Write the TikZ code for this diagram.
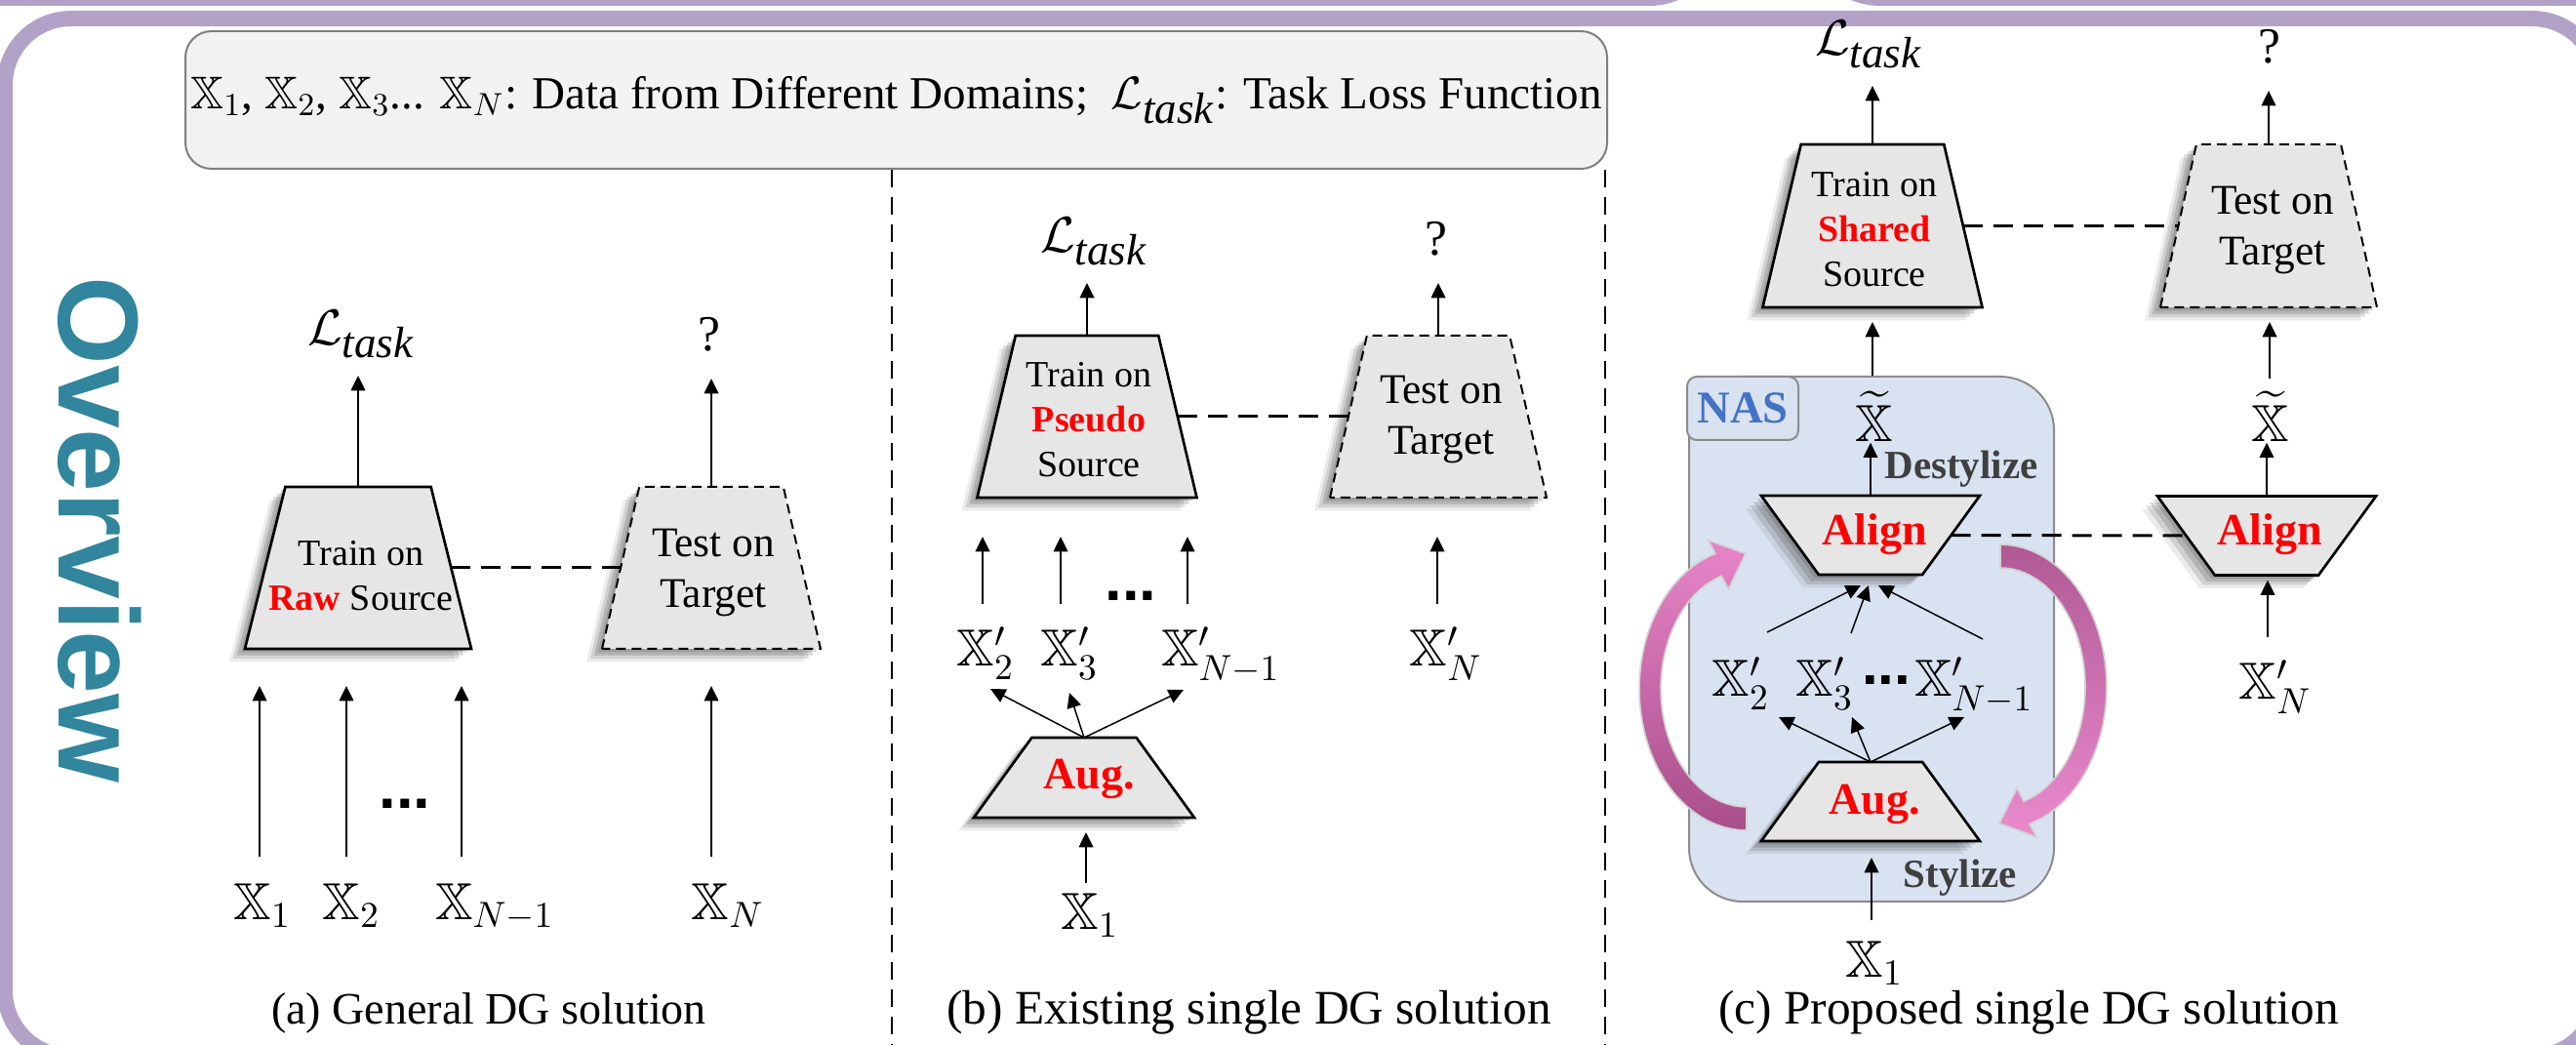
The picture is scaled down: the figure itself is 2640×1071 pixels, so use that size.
\documentclass[tikz,border=0pt]{standalone}
\usepackage{fix-cm}
\usepackage{amsmath,amssymb}
\usepackage{fontspec}
\setmainfont{Liberation Serif}
\newfontfamily\arialfont{Liberation Sans}
\usetikzlibrary{shapes.geometric,arrows.meta,shadows,calc}
\newcommand{\bbX}{\mathbb{X}}
\newcommand{\Ltask}{\mathcal{L}_{\text{\fontsize{13.5}{14}\selectfont\itshape task}}}
\definecolor{lav}{HTML}{B3A2C7}
\definecolor{ovteal}{HTML}{31859C}
\definecolor{trapfill}{HTML}{E6E6E6}
\definecolor{legfill}{HTML}{F2F2F2}
\definecolor{legdraw}{HTML}{7F7F7F}
\definecolor{nasfill}{HTML}{D9E2F1}
\definecolor{nasdraw}{HTML}{8C8C8C}
\definecolor{nasblue}{HTML}{4472C4}
\definecolor{dgray}{HTML}{3F3F3F}
\definecolor{pinkL}{HTML}{E785C8}
\definecolor{pinkD}{HTML}{A84E8A}
\definecolor{pinkRD}{HTML}{B05A95}
\definecolor{pinkRL}{HTML}{EA8ACD}
\tikzset{
  softshadow/.style={
    drop shadow={shadow xshift=-1.2pt,shadow yshift=-1.0pt,opacity=0.20,fill=black!75},
    drop shadow={shadow xshift=-2.4pt,shadow yshift=-2.0pt,opacity=0.20,fill=black!75},
    drop shadow={shadow xshift=-3.6pt,shadow yshift=-3.0pt,opacity=0.16,fill=black!75},
    drop shadow={shadow xshift=-4.8pt,shadow yshift=-4.0pt,opacity=0.10,fill=black!75}},
  trapbox/.style={trapezium, trapezium stretches=true, draw=black, line width=0.8pt,
    fill=trapfill, inner sep=1pt, outer sep=0pt, softshadow},
  dtrapbox/.style={trapbox, line width=0.6pt, dash pattern=on 3pt off 1.8pt},
  arr/.style={-{Triangle[length=4.6pt,width=4.4pt]}, line width=0.45pt},
  linkd/.style={line width=0.9pt, dash pattern=on 6pt off 3.3pt},
  sepd/.style={line width=0.6pt, dash pattern=on 5.4pt off 3pt},
  trtext/.style={font=\fontsize{11.4}{13.8}\selectfont, align=center, inner sep=0pt},
  tetext/.style={font=\fontsize{13}{15.5}\selectfont, align=center, inner sep=0pt},
  redb/.style={font=\fontsize{13.8}{16}\selectfont\bfseries, text=red, inner sep=0pt},
  xlab/.style={font=\fontsize{16}{18}\selectfont, inner sep=0pt, anchor=base},
  losslab/.style={font=\fontsize{15.5}{18}\selectfont, inner sep=0pt, anchor=south},
  qlab/.style={font=\fontsize{15.5}{18}\selectfont, inner sep=0pt, anchor=south},
  dotlab/.style={font=\arialfont\bfseries\fontsize{19}{20}\selectfont, inner sep=0pt},
  dotlabs/.style={font=\arialfont\bfseries\fontsize{18}{18}\selectfont, inner sep=0pt},
  caplab/.style={font=\fontsize{14.8}{17}\selectfont, inner sep=0pt},
  stylab/.style={font=\fontsize{12.3}{14}\selectfont\bfseries, text=dgray, inner sep=0pt}
}
\begin{document}
\begin{tikzpicture}[x=0.3pt,y=-0.3pt]
\useasboundingbox (0,0) rectangle (2640,1071);
\clip (0,0) rectangle (2640,1071);
% frames
\fill[lav, rounded corners=23.4pt] (-300,-300) rectangle (1768,6);
\fill[lav, rounded corners=23.4pt] (1849,-300) rectangle (2950,6);
\draw[lav, line width=4.8pt, rounded corners=20.4pt] (5,19) rectangle (2663,1083);
% Overview
\node[rotate=-90, anchor=base west, inner sep=0pt, text=ovteal, font=\arialfont\bfseries\fontsize{35}{40}\selectfont] (ov) at (60,283) {Overview};
% legend
\node[draw=legdraw, line width=0.6pt, fill=legfill, rounded corners=8pt, minimum width=437.1pt, minimum height=42.3pt, inner sep=0pt, font=\fontsize{14.1}{16}\selectfont] (legend) at (918.5,102.5) {$\bbX_1$, $\bbX_2$, $\bbX_3$... $\bbX_N$: Data from Different Domains;\ \ $\Ltask$: Task Loss Function};
\coordinate (sepA) at (914,1080);
\coordinate (sepB) at (1645,1080);
\draw[sepd] (legend.south -| sepA) -- (sepA);
\draw[sepd] (legend.south -| sepB) -- (sepB);

% ---------- (a)
\node[trapbox, minimum width=69.6pt, minimum height=49.8pt, trapezium angle=74.5] (trapA1) at (367,582) {};
\node[dtrapbox, minimum width=67.2pt, minimum height=49.8pt, trapezium angle=75.5] (trapA2) at (729,582) {};
\node[trtext] (txtA1) at (370,590) {Train on\\{\color{red}\bfseries Raw} Source};
\node[tetext] (txtA2) at (731,587) {Test on\\Target};
\draw[linkd] (trapA1.east) -- (trapA2.west);
\node[losslab] (lossA) at (370,368) {$\Ltask$};
\node[qlab] (qA) at (727,361) {?};
\draw[arr] (trapA1.north) -- ([yshift=-5.1pt]trapA1.north |- lossA.south);
\draw[arr] (trapA2.north) -- ([yshift=-8.1pt]trapA2.north |- qA.south);
\coordinate (tA1) at (266,878);
\coordinate (tA2) at (355,878);
\coordinate (tA3) at (473,878);
\coordinate (tA4) at (729,878);
\draw[arr] (tA1) -- ([yshift=-11.4pt]tA1 |- trapA1.south);
\draw[arr] (tA2) -- ([yshift=-11.4pt]tA2 |- trapA1.south);
\draw[arr] (tA3) -- ([yshift=-11.4pt]tA3 |- trapA1.south);
\draw[arr] (tA4) -- ([yshift=-11.4pt]tA4 |- trapA2.south);
\node[xlab] (xA1) at (269,942) {$\bbX_1$};
\node[xlab] (xA2) at (360,942) {$\bbX_2$};
\node[xlab] (xA3) at (507,942) {$\bbX_{N-1}$};
\node[xlab] (xA4) at (746,942) {$\bbX_N$};
\node[dotlab] (dotsA) at (415,824) {...};
\node[caplab, font=\fontsize{13.8}{17}\selectfont] (capA) at (501,1038) {(a) General DG solution};

% ---------- (b)
\node[trapbox, minimum width=67.5pt, minimum height=49.8pt, trapezium angle=75] (trapB1) at (1114,427) {};
\node[dtrapbox, minimum width=66.6pt, minimum height=49.8pt, trapezium angle=75.5] (trapB2) at (1474,427) {};
\node[trtext] (txtB1) at (1116,430) {Train on\\{\color{red}\bfseries Pseudo}\\Source};
\node[tetext] (txtB2) at (1477,430) {Test on\\Target};
\draw[linkd] (trapB1.east) -- (trapB2.west);
\node[losslab] (lossB) at (1121,273) {$\Ltask$};
\node[qlab] (qB) at (1472,263) {?};
\draw[arr] (trapB1.north) -- ([yshift=-5.1pt]trapB1.north |- lossB.south);
\draw[arr] (trapB2.north) -- ([yshift=-8.1pt]trapB2.north |- qB.south);
\coordinate (tB1) at (1007,619);
\coordinate (tB2) at (1087,619);
\coordinate (tB3) at (1217,619);
\coordinate (tB4) at (1473,619);
\draw[arr] (tB1) -- ([yshift=-12pt]tB1 |- trapB1.south);
\draw[arr] (tB2) -- ([yshift=-12pt]tB2 |- trapB1.south);
\draw[arr] (tB3) -- ([yshift=-12pt]tB3 |- trapB1.south);
\draw[arr] (tB4) -- ([yshift=-12pt]tB4 |- trapB2.south);
\node[xlab] (xB2) at (1010,683) {$\bbX'_2$};
\node[xlab] (xB3) at (1096,683) {$\bbX'_3$};
\node[xlab] (xB4) at (1251,683) {$\bbX'_{N-1}$};
\node[xlab] (xB5) at (1482,683) {$\bbX'_N$};
\node[dotlab] (dotsB) at (1159,611) {...};
\node[trapbox, minimum width=67.8pt, minimum height=24.6pt, trapezium angle=61] (augB) at (1111,797) {};
\node[redb] (txtB3) at (1116,798) {Aug.};
\coordinate (hB1) at (1015,706);
\coordinate (hB2) at (1096,710);
\coordinate (hB3) at (1213,707);
\draw[arr] (augB.north) -- (hB1);
\draw[arr] (augB.north) -- (hB2);
\draw[arr] (augB.north) -- (hB3);
\coordinate (tB5) at (1113,905);
\draw[arr] (tB5) -- ([yshift=-4.5pt]tB5 |- augB.south);
\node[xlab] (xB1) at (1117,953) {$\bbX_1$};
\node[caplab] (capB) at (1280,1038) {(b) Existing single DG solution};

% ---------- (c)
\node[draw=nasdraw, line width=0.6pt, fill=nasfill, rounded corners=16.5pt, minimum width=112.2pt, minimum height=161.4pt, inner sep=0pt] (nas) at (1918,655) {};
\node[draw=nasdraw, line width=0.6pt, fill=nasfill, rounded corners=3pt, minimum width=34.2pt, minimum height=19.5pt, inner sep=0pt, font=\fontsize{14}{16}\selectfont\bfseries, text=nasblue] (nastag) at (1786,418.5) {NAS};
% pink cycle arrows
\shade[top color=pinkL, bottom color=pinkD, draw=gray!35, line width=0.5pt]
  plot[domain=90:253, samples=40, variable=\t] ({1790+110*cos(\t)}, {706+145*sin(\t)})
  -- (1750.8,553.8) -- (1788.9,567.4) -- (1771.4,603.8)
  -- plot[domain=253:90, samples=40, variable=\t] ({1790+88*cos(\t)}, {706+121*sin(\t)})
  -- cycle;
\shade[top color=pinkRD, bottom color=pinkRL, draw=gray!35, line width=0.5pt]
  plot[domain=270:434, samples=40, variable=\t] ({2050+109*cos(\t)}, {704+146*sin(\t)})
  -- (2086.9,857.9) -- (2049.1,843.8) -- (2067.1,807.7)
  -- plot[domain=434:270, samples=40, variable=\t] ({2050+87*cos(\t)}, {704+122*sin(\t)})
  -- cycle;

\node[trapbox, minimum width=67.5pt, minimum height=50.1pt, trapezium angle=75] (trapC1) at (1919,231.5) {};
\node[dtrapbox, minimum width=66.6pt, minimum height=50.1pt, trapezium angle=76] (trapC2) at (2325,231.5) {};
\node[trtext] (txtC1) at (1921,235) {Train on\\{\color{red}\bfseries Shared}\\Source};
\node[tetext] (txtC2) at (2329,236) {Test on\\Target};
\draw[linkd] (trapC1.east) -- (trapC2.west);
\node[losslab] (lossC) at (1915,71) {$\Ltask$};
\node[qlab] (qC) at (2326,66) {?};
\draw[arr] (trapC1.north) -- ([yshift=-5.1pt]trapC1.north |- lossC.south);
\draw[arr] (trapC2.north) -- ([yshift=-8.1pt]trapC2.north |- qC.south);
\draw[arr] (nas.north -| trapC1.south) -- ([yshift=-4.5pt]trapC1.south);
\node[xlab] (xtR) at (2327,453) {$\widetilde{\bbX}$};
\coordinate (tC6) at (2326,388);
\draw[arr] (tC6) -- ([yshift=-4.5pt]tC6 |- trapC2.south);

\node[trapbox, minimum width=67.2pt, minimum height=24.3pt, trapezium angle=119] (alignL) at (1917,548.5) {};
\node[trapbox, minimum width=67.2pt, minimum height=24.3pt, trapezium angle=119] (alignR) at (2323,549) {};
\node[redb] (txtC3) at (1921,548) {Align};
\node[redb] (txtC4) at (2326,548) {Align};
\draw[linkd] (alignL.east) -- (alignR.west);
\node[xlab] (xtL) at (1921,453) {$\widetilde{\bbX}$};
\draw[arr] (alignL.north) -- (alignL.north |- xtL.south);
\draw[arr] (alignR.north) -- (alignR.north |- xtR.south);
\node[stylab] (destyl) at (2010,481) {Destylize};

\node[trapbox, minimum width=67.2pt, minimum height=24.3pt, trapezium angle=61] (augC) at (1917,821.5) {};
\node[redb] (txtC5) at (1921,824) {Aug.};
\node[xlab] (xC2) at (1784,714) {$\bbX'_2$};
\node[xlab] (xC3) at (1870,714) {$\bbX'_3$};
\node[dotlabs] (dotsC) at (1933,697) {...};
\node[xlab] (xC4) at (2023,714) {$\bbX'_{N-1}$};
\node[xlab] (xC5) at (2332,717) {$\bbX'_N$};
\coordinate (hC1) at (1823,735);
\coordinate (hC2) at (1898,735);
\coordinate (hC3) at (2013,735);
\draw[arr] (augC.north) -- (hC1);
\draw[arr] (augC.north) -- (hC2);
\draw[arr] (augC.north) -- (hC3);
\coordinate (tC1) at (1811,648);
\coordinate (tC2) at (1897,649);
\coordinate (tC3) at (2032,655);
\coordinate (hC4) at (1907,600);
\coordinate (hC5) at (1915,600);
\coordinate (hC6) at (1925,600);
\draw[arr] (tC1) -- (hC4);
\draw[arr] (tC2) -- (hC5);
\draw[arr] (tC3) -- (hC6);
\coordinate (tC5) at (2324,653);
\draw[arr] (tC5) -- ([yshift=-1.5pt]tC5 |- alignR.south);
\coordinate (tC4) at (1918,943);
\draw[arr] (tC4) -- ([yshift=-5.1pt]tC4 |- augC.south);
\node[stylab] (styl) at (2009,900) {Stylize};
\node[xlab] (xC1) at (1921,1001) {$\bbX_1$};
\node[caplab] (capC) at (2079,1038) {(c) Proposed single DG solution};
\end{tikzpicture}
\end{document}
